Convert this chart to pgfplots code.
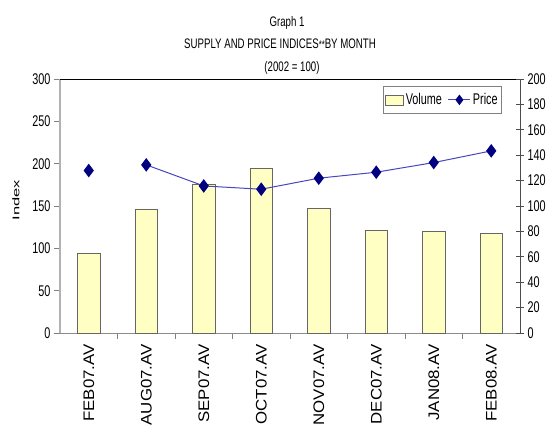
\documentclass[border=0pt]{standalone}
\usepackage{pgfplots}
\pgfplotsset{compat=1.18}
\usepackage{fontspec}
\setmainfont{Liberation Sans}
\newfontfamily\narrowf[FakeStretch=0.70]{Liberation Sans}
\newfontfamily\titlef[FakeStretch=0.70]{Liberation Sans}
\newfontfamily\widef[FakeStretch=1.1]{Liberation Sans}
\newfontfamily\indexf[FakeStretch=1.7]{Liberation Sans}
\definecolor{volfill}{RGB}{255,255,196}
\definecolor{navy}{RGB}{0,0,128}
\definecolor{pline}{RGB}{70,70,190}
\pgfplotsset{pricelegend/.style={legend image code/.code={\draw[mark repeat=2,mark phase=2,##1, mark size=4.5pt] plot coordinates {(0pt,0pt) (11pt,0pt) (22pt,0pt)};}}}
\begin{document}
\begin{tikzpicture}
\path[use as bounding box] (-60pt,-99pt) rectangle (489pt,333pt);
\begin{axis}[
  at={(0pt,0pt)}, anchor=south west,
  scale only axis, width=460pt, height=254pt,
  xmin=-0.5, xmax=7.5, ymin=0, ymax=300,
  axis x line*=bottom, axis y line*=left,
  x axis line style={draw=gray!90, line width=1pt, -},
  y axis line style={draw=gray!60, line width=1.6pt, -},
  ytick={0,50,...,300},
  xtick={0.5,1.5,...,6.5}, xticklabels={},
  extra x ticks={0,...,7},
  extra x tick labels={FEB07.AV,AUG07.AV,SEP07.AV,OCT07.AV,NOV07.AV,DEC07.AV,JAN08.AV,FEB08.AV},
  extra x tick style={major tick length=0pt},
  tick align=outside, major tick length=6pt,
  tick style={draw=gray, line width=0.8pt},
  xticklabel style={font=\widef\fontsize{15.3}{16}\selectfont, rotate=90, anchor=east, inner xsep=11pt, inner ysep=0pt},
  yticklabel style={font=\narrowf\fontsize{15.5}{16}\selectfont},
  /pgf/number format/assume math mode=true,
]
\addplot[ybar, bar width=22.7pt, fill=volfill, draw=black!60, line width=0.6pt]
  coordinates {(0,94.5) (1,146.5) (2,175.6) (3,194.2) (4,147.6) (5,121.3) (6,120.1) (7,117.4)};
\draw[black, line width=0.8pt] (rel axis cs:0,1) -- (rel axis cs:1,1);
\end{axis}
\begin{axis}[
  at={(0pt,0pt)}, anchor=south west,
  scale only axis, width=460pt, height=254pt,
  xmin=-0.5, xmax=7.5, ymin=0, ymax=200,
  axis x line=none, axis y line*=right,
  y axis line style={draw=black!70, line width=0.8pt, -},
  ytick={0,20,...,200},
  tick align=center, major tick length=8pt,
  tick style={draw=black!70, line width=0.8pt},
  yticklabel style={font=\narrowf\fontsize{15.5}{16}\selectfont},
  /pgf/number format/assume math mode=true,
  unbounded coords=jump,
  legend columns=2,
  legend style={at={(0.961,0.972)}, anchor=north east, draw=gray, line width=0.8pt, fill=white,
    font=\narrowf\fontsize{15.5}{16}\selectfont, inner xsep=2pt, inner ysep=5pt,
    /tikz/every even column/.append style={column sep=4pt}},
]
\addlegendimage{legend image code/.code={\draw[fill=volfill,draw=black!60,line width=0.6pt] (0pt,-5pt) rectangle (18pt,5pt);}}
\addlegendentry{Volume}
\addplot[pline, line width=1pt, mark=diamond*, mark size=6pt, mark options={fill=navy, draw=navy}, pricelegend]
  coordinates {(0,127.9) (0.5,nan) (1,132.4) (2,115.8) (3,113.2) (4,121.9) (5,126.6) (6,134.2) (7,143.4)};
\addlegendentry{Price}
\end{axis}
\node[rotate=90, font=\indexf\fontsize{9.7}{10}\selectfont] at (-44pt,133pt) {Index};
\node[anchor=base, font=\titlef\fontsize{13.8}{14}\selectfont] at (227pt,307pt) {Graph 1};
\node[anchor=base, font=\titlef\fontsize{13.8}{14}\selectfont] at (220pt,285pt) {SUPPLY AND PRICE INDICES{\fontsize{11}{11}\selectfont **}BY MONTH};
\node[anchor=base, font=\titlef\fontsize{13.8}{14}\selectfont] at (232pt,262pt) {(2002 = 100)};
\end{tikzpicture}
\end{document}
